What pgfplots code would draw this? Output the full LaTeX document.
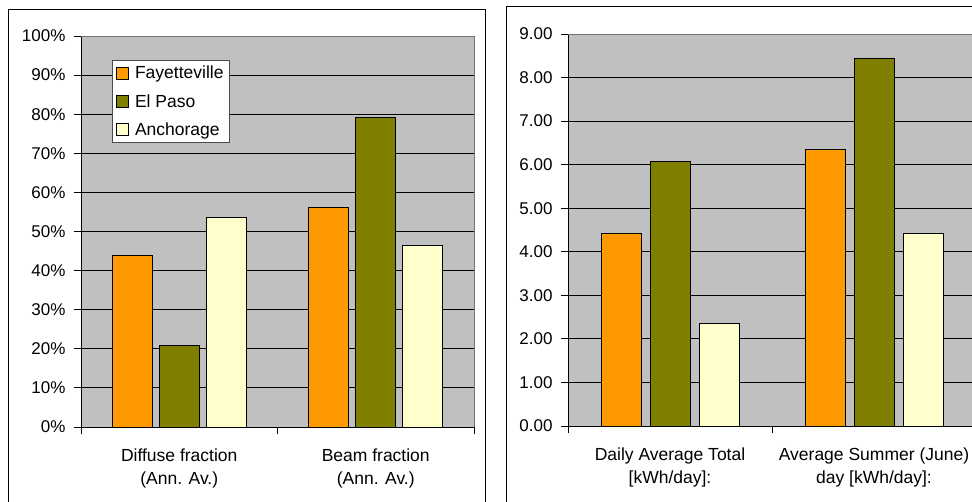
\documentclass[border=0pt]{standalone}
\usepackage{pgfplots}
\pgfplotsset{compat=1.18}
\usepackage{fontspec}
\setmainfont{Liberation Sans}

\definecolor{fay}{HTML}{FF9900}
\definecolor{elp}{HTML}{808000}
\definecolor{anc}{HTML}{FFFFCC}
\definecolor{plotbg}{HTML}{C0C0C0}

\pgfplotsset{
  solarbars/.style={
    scale only axis,
    xmin=0.5, xmax=2.5,
    xtick={0.5,1.5,2.5}, xticklabels={},
    extra x ticks={1,2},
    extra x tick style={major tick length=0pt, grid=none},
    axis lines=left,
    axis line style={-, black, line width=0.9pt},
    tick align=outside,
    major tick length=7pt,
    tick style={black, line width=0.9pt},
    ymajorgrids,
    grid style={black, line width=0.9pt},
    axis background/.style={fill=plotbg},
    ticklabel style={font=\fontsize{17}{20}\selectfont},
    yticklabel style={xshift=-5pt},
    /pgf/number format/assume math mode=true,
    xticklabel style={align=center, yshift=-18pt, font=\fontsize{17.5}{23}\selectfont},
    every axis plot/.append style={ybar, bar width=40pt, draw=black, line width=0.7pt},
    clip=false,
  },
  legend image code/.code={\draw[#1, line width=0.6pt] (0pt,-5.5pt) rectangle (12pt,6.5pt);},
}

\begin{document}
\begin{tikzpicture}
\clip (0pt,0pt) rectangle (972pt,501pt);
\useasboundingbox (0pt,0pt) rectangle (972pt,501pt);
\fill[white] (0pt,0pt) rectangle (972pt,501pt);

% outer chart frames
\draw[black, line width=1pt] (8.5pt,-10pt) rectangle (485pt,491pt);
\draw[black, line width=1pt] (506pt,-10pt) rectangle (1000pt,494pt);

% left: fractions
\begin{axis}[solarbars,
  at={(81pt,74pt)}, anchor=south west, width=393pt, height=391pt,
  ymin=0, ymax=100, ytick={0,10,...,100},
  yticklabel={\pgfmathprintnumber{\tick}\%},
  extra x tick labels={{Diffuse fraction\\(Ann. Av.)},{Beam fraction\\(Ann. Av.)}},
  legend style={at={(0.079,0.939)}, anchor=north west, draw=black!70, line width=0.8pt,
    font=\fontsize{17.5}{21}\selectfont, row sep=10pt, inner sep=4pt,
    cells={anchor=west},
    /tikz/every odd column/.append style={column sep=4pt}},
]
\addplot[fill=fay, bar shift=-47pt] coordinates {(1,43.8) (2,56.2)};
\addplot[fill=elp, bar shift=0pt] coordinates {(1,20.8) (2,79.2)};
\addplot[fill=anc, bar shift=47pt] coordinates {(1,53.6) (2,46.4)};
\legend{Fayetteville, El Paso, Anchorage}
\draw[black!55, line width=0.8pt] (rel axis cs:0,1) -- (rel axis cs:1,1) -- (rel axis cs:1,0);
\end{axis}

% right: energy
\begin{axis}[solarbars,
  at={(568pt,75pt)}, anchor=south west, width=408pt, height=392pt,
  ymin=0, ymax=9, ytick={0,1,...,9},
  yticklabel style={/pgf/number format/.cd, fixed, fixed zerofill, precision=2},
  extra x tick labels={{Daily Average Total\\{}[kWh/day]:},{Average Summer (June)\\day [kWh/day]:}},
]
\addplot[fill=fay, bar shift=-49pt] coordinates {(1,4.42) (2,6.35)};
\addplot[fill=elp, bar shift=0pt] coordinates {(1,6.07) (2,8.43)};
\addplot[fill=anc, bar shift=49pt] coordinates {(1,2.36) (2,4.42)};
\draw[black!55, line width=0.8pt] (rel axis cs:0,1) -- (rel axis cs:1,1);
\end{axis}
\end{tikzpicture}
\end{document}
